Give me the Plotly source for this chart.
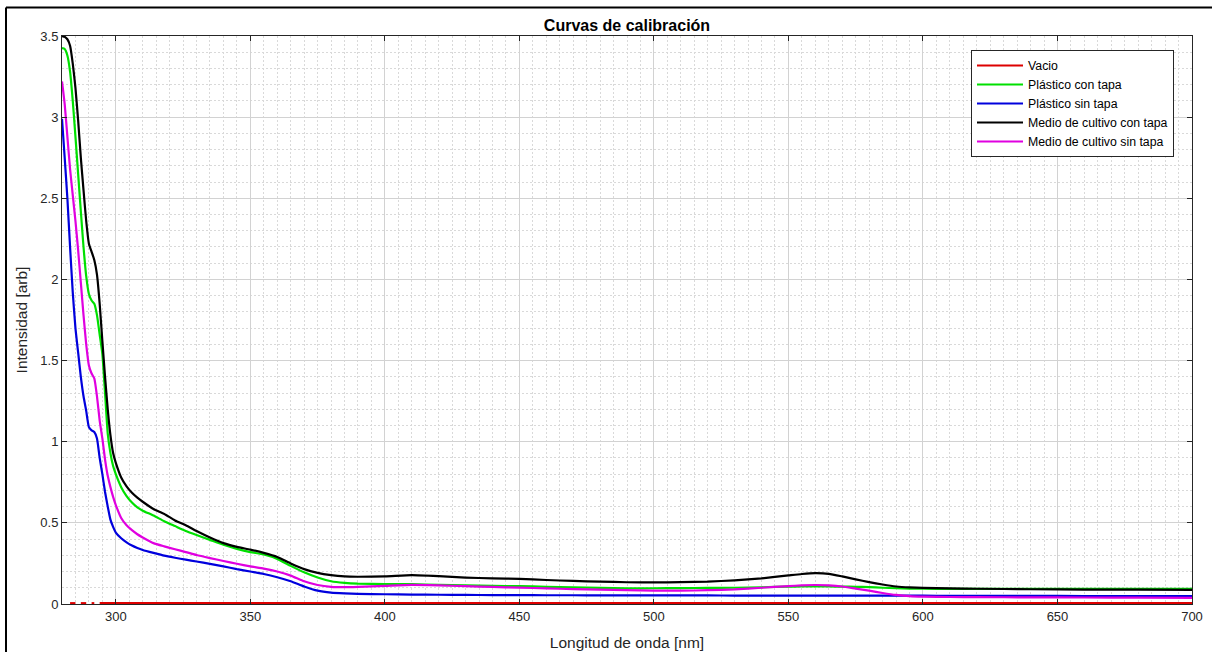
import plotly.graph_objects as go

# ---------------- data ----------------
wavelength = [280, 281, 282, 283, 284, 285, 286, 287, 288, 289, 290, 291, 292, 293, 294,
              295, 296, 297, 298, 299, 300, 302, 304, 306, 308, 310, 314, 318, 322, 326,
              330, 335, 340, 345, 350, 355, 360, 365, 370, 375, 380, 385, 390, 400, 410,
              420, 430, 440, 450, 460, 470, 480, 490, 500, 510, 520, 530, 540, 550, 555,
              560, 565, 570, 575, 580, 585, 590, 595, 600, 610, 620, 640, 660, 680, 700]

vacio = [None, None, None, 0.005, 0.005, 0.005, None, 0.005, 0.005, 0.005, None, 0.005, 0.005, None, 0.005,
         0.005, 0.005, 0.005, 0.005, 0.005, 0.005, 0.005, 0.005, 0.005, 0.005, 0.005, 0.005, 0.005, 0.005, 0.005,
         0.005, 0.005, 0.005, 0.005, 0.005, 0.005, 0.005, 0.005, 0.005, 0.005, 0.005, 0.005, 0.005, 0.005, 0.005,
         0.005, 0.005, 0.005, 0.005, 0.005, 0.005, 0.005, 0.005, 0.005, 0.005, 0.005, 0.005, 0.005, 0.005, 0.005,
         0.005, 0.005, 0.005, 0.005, 0.005, 0.005, 0.005, 0.005, 0.005, 0.005, 0.005, 0.005, 0.005, 0.005, 0.005]

plastico_con_tapa = [3.425, 3.42, 3.38, 3.28, 3.10, 2.88, 2.65, 2.42, 2.20, 2.02, 1.91, 1.87, 1.85, 1.78, 1.66,
                     1.54, 1.30, 1.05, 0.93, 0.85, 0.80, 0.72, 0.665, 0.625, 0.595, 0.575, 0.545, 0.51, 0.48, 0.45,
                     0.425, 0.395, 0.365, 0.34, 0.32, 0.305, 0.278, 0.235, 0.195, 0.163, 0.14, 0.13, 0.125, 0.123, 0.122,
                     0.118, 0.115, 0.112, 0.11, 0.106, 0.102, 0.099, 0.097, 0.097, 0.098, 0.099, 0.100, 0.103, 0.107, 0.108,
                     0.109, 0.108, 0.107, 0.106, 0.104, 0.100, 0.097, 0.095, 0.094, 0.093, 0.093, 0.093, 0.093, 0.093, 0.093]

plastico_sin_tapa = [2.99, 2.75, 2.50, 2.20, 1.92, 1.70, 1.55, 1.40, 1.28, 1.19, 1.09, 1.07, 1.06, 1.02, 0.90,
                     0.80, 0.69, 0.60, 0.52, 0.475, 0.44, 0.405, 0.38, 0.36, 0.345, 0.333, 0.315, 0.298, 0.285, 0.273,
                     0.262, 0.247, 0.232, 0.215, 0.20, 0.185, 0.165, 0.14, 0.108, 0.082, 0.07, 0.065, 0.062, 0.06, 0.058,
                     0.057, 0.056, 0.055, 0.055, 0.054, 0.054, 0.053, 0.053, 0.053, 0.053, 0.053, 0.052, 0.052, 0.052, 0.052,
                     0.052, 0.052, 0.052, 0.052, 0.052, 0.051, 0.051, 0.051, 0.051, 0.050, 0.050, 0.050, 0.049, 0.049, 0.049]

medio_con_tapa = [3.50, 3.495, 3.48, 3.44, 3.33, 3.18, 2.98, 2.75, 2.55, 2.36, 2.22, 2.17, 2.12, 2.03, 1.85,
                  1.62, 1.40, 1.20, 1.04, 0.93, 0.87, 0.78, 0.725, 0.685, 0.655, 0.63, 0.585, 0.555, 0.515, 0.485,
                  0.45, 0.41, 0.375, 0.352, 0.335, 0.315, 0.29, 0.25, 0.215, 0.192, 0.178, 0.17, 0.168, 0.170, 0.178,
                  0.172, 0.163, 0.158, 0.155, 0.148, 0.142, 0.138, 0.134, 0.133, 0.135, 0.138, 0.146, 0.158, 0.176, 0.185,
                  0.190, 0.186, 0.170, 0.152, 0.135, 0.12, 0.108, 0.102, 0.099, 0.096, 0.094, 0.091, 0.089, 0.088, 0.087]

medio_sin_tapa = [3.22, 3.08, 2.88, 2.68, 2.52, 2.36, 2.18, 1.98, 1.78, 1.60, 1.47, 1.42, 1.39, 1.28, 1.13,
                  1.02, 0.89, 0.79, 0.72, 0.66, 0.61, 0.53, 0.485, 0.455, 0.43, 0.41, 0.375, 0.355, 0.337, 0.32,
                  0.302, 0.283, 0.265, 0.248, 0.232, 0.218, 0.20, 0.175, 0.14, 0.117, 0.106, 0.104, 0.106, 0.112, 0.118,
                  0.115, 0.11, 0.105, 0.101, 0.096, 0.092, 0.088, 0.085, 0.082, 0.082, 0.085, 0.09, 0.10, 0.11, 0.115,
                  0.117, 0.115, 0.108, 0.095, 0.082, 0.068, 0.056, 0.048, 0.045, 0.043, 0.042, 0.041, 0.040, 0.039, 0.038]

series_names = ["Vacio", "Plástico con tapa", "Plástico sin tapa",
                "Medio de cultivo con tapa", "Medio de cultivo sin tapa"]
series_values = [vacio, plastico_con_tapa, plastico_sin_tapa, medio_con_tapa, medio_sin_tapa]
series_colors = ["#dd0000", "#00e000", "#0000dd", "#000000", "#e000e0"]

x_ticks = [300, 350, 400, 450, 500, 550, 600, 650, 700]
y_ticks = [0, 0.5, 1, 1.5, 2, 2.5, 3, 3.5]
y_ticklabels = ["0", "0.5", "1", "1.5", "2", "2.5", "3", "3.5"]

# ---------------- figure ----------------
FONT = "Liberation Sans, Arial, Helvetica, sans-serif"
AX = "#262626"

fig = go.Figure()
for name, vals, col in zip(series_names, series_values, series_colors):
    fig.add_trace(go.Scatter(
        x=wavelength, y=vals, name=name, mode="lines",
        line=dict(color=col, width=2.2, shape="spline", smoothing=0.5),
        connectgaps=False,
    ))

L, R, T, B = 62, 20, 36, 48
W, H = 1212, 652
pw, ph = W - L - R, H - T - B

def px_x(px):
    return (px - L) / pw

def px_y(py):
    return (H - B - py) / ph

axis_common = dict(
    showline=True, linecolor=AX, linewidth=1, mirror="ticks",
    ticks="inside", ticklen=5, tickcolor=AX, tickwidth=1,
    showgrid=True, gridcolor="#d2d2d2", gridwidth=1,
    zeroline=False,
    tickfont=dict(family=FONT, size=13, color=AX),
)

fig.update_xaxes(
    range=[280, 700], tickvals=x_ticks,
    minor=dict(tick0=280, dtick=5, showgrid=True, gridcolor="#d9d9d9",
               griddash="2px,2px", gridwidth=1, ticks=""),
    title=dict(text="Longitud de onda [nm]", font=dict(family=FONT, size=15.5, color=AX), standoff=14),
    **axis_common,
)
fig.update_yaxes(
    range=[0, 3.5], tickvals=y_ticks, ticktext=y_ticklabels,
    minor=dict(tick0=0, dtick=0.1, showgrid=True, gridcolor="#d9d9d9",
               griddash="2px,2px", gridwidth=1, ticks=""),
    title=dict(text="Intensidad [arb]", font=dict(family=FONT, size=15.5, color=AX), standoff=8),
    **axis_common,
)

fig.update_layout(
    width=W, height=H,
    margin=dict(l=L, r=R, t=T, b=B, autoexpand=False),
    paper_bgcolor="white", plot_bgcolor="white",
    title=dict(text="<b>Curvas de calibración</b>", xref="paper", x=0.5, xanchor="center",
               y=1 - 25 / H, yanchor="middle",
               font=dict(family=FONT, size=16, color="#000")),
    legend=dict(x=px_x(971), y=px_y(50), xanchor="left", yanchor="top",
                bgcolor="white", bordercolor="#262626", borderwidth=1,
                font=dict(family=FONT, size=12.3, color="#000"),
                tracegroupgap=0, itemwidth=46),
    showlegend=True,
)

# outer figure frame (left and top edges, as in the reference screenshot)
fig.add_shape(type="line", xref="paper", yref="paper",
              x0=px_x(6), x1=px_x(W), y0=px_y(7.5), y1=px_y(7.5),
              line=dict(color="black", width=2))
fig.add_shape(type="line", xref="paper", yref="paper",
              x0=px_x(6), x1=px_x(6), y0=px_y(7.5), y1=px_y(H),
              line=dict(color="black", width=2))

fig.write_html("out.html")
